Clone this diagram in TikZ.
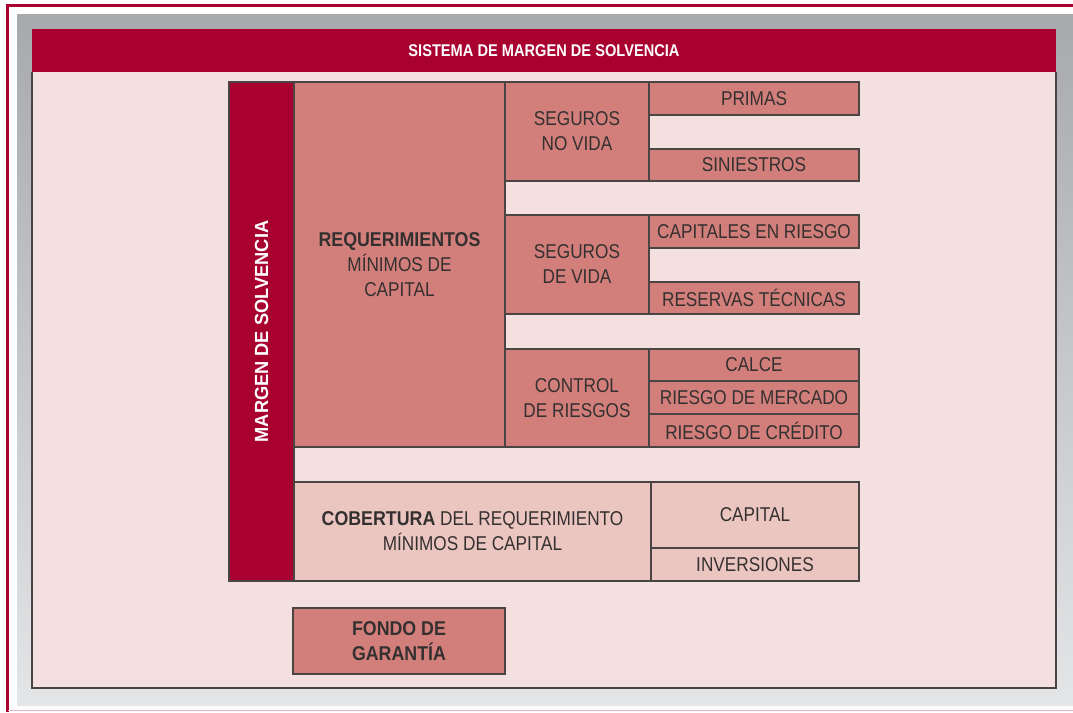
\documentclass[tikz,border=0pt]{standalone}
\usepackage{fontspec}
\setmainfont{Liberation Sans}[FakeStretch=0.86, BoldFeatures={FakeStretch=0.89}]
\newfontfamily\hdrfont{Liberation Sans}[FakeStretch=0.86]
\newfontfamily\vfont{Liberation Sans}[FakeStretch=0.96]
\definecolor{darkred}{HTML}{A8002F}
\definecolor{midpink}{HTML}{D27F7B}
\definecolor{lightbg}{HTML}{F3E0DF}
\definecolor{covpink}{HTML}{EBC6C1}
\definecolor{greytop}{HTML}{A8A9AD}
\definecolor{greybot}{HTML}{E4E5E7}
\definecolor{edge}{HTML}{4A4444}
\definecolor{txt}{HTML}{353030}
\tikzset{
  x=1pt, y=-1pt,
  bx/.style={draw=edge, line width=1.3pt, fill=midpink, text=txt, inner sep=0pt, align=center,
    font=\fontsize{20}{25}\selectfont},
  lbx/.style={bx, fill=covpink},
}
\newcommand{\boxat}[7]{%
  \node[#6, minimum width={(#4)-(#2)}, minimum height={(#5)-(#3)}] (#1) at ({((#2)+(#4))/2},{((#3)+(#5))/2}) {#7};}
\begin{document}
\begin{tikzpicture}
\useasboundingbox (0,0) rectangle (1073,712);
\fill[white] (0,0) rectangle (1073,712);
% outer frame
\draw[darkred, line width=2.6pt] (7.5,712) -- (7.5,5.5) -- (1073,5.5);
\draw[darkred!30, line width=1.5pt] (7.5,710.5) -- (1073,710.5);
% grey band
\shade[top color=greytop, bottom color=greybot] (17,14) rectangle (1073,705);
% inner pink area
\fill[lightbg] (32,29) rectangle (1056,688);
\draw[edge, line width=1.2pt] (32,72) -- (32,688) -- (1056,688) -- (1056,72);
% header
\node[fill=darkred, minimum width=1024, minimum height=43, inner sep=0pt,
  text=white, font=\hdrfont\bfseries\fontsize{17}{20}\selectfont] (hdr) at (544,50.5) {SISTEMA DE MARGEN DE SOLVENCIA};
% margin bar
\boxat{mar}{229}{82}{294}{581}{bx, fill=darkred}{}
\node[rotate=90, text=white, font=\vfont\bfseries\fontsize{19}{22}\selectfont] (martxt) at (mar.center) {MARGEN DE SOLVENCIA};
% requerimientos
\boxat{req}{294}{82}{505}{447}{bx}{\textbf{REQUERIMIENTOS}\\MÍNIMOS DE\\CAPITAL}
\boxat{snv}{505}{82}{649}{181}{bx}{SEGUROS\\NO VIDA}
\boxat{pri}{649}{82}{859}{115}{bx}{PRIMAS}
\boxat{sin}{649}{149}{859}{181}{bx}{SINIESTROS}
\boxat{sv}{505}{215}{649}{314}{bx}{SEGUROS\\DE VIDA}
\boxat{cap}{649}{215}{859}{248}{bx}{CAPITALES EN RIESGO}
\boxat{res}{649}{282}{859}{314}{bx}{RESERVAS TÉCNICAS}
\boxat{ctl}{505}{349}{649}{447}{bx}{CONTROL\\DE RIESGOS}
\boxat{cal}{649}{349}{859}{381}{bx}{CALCE}
\boxat{mer}{649}{381}{859}{414}{bx}{RIESGO DE MERCADO}
\boxat{cre}{649}{414}{859}{447}{bx}{RIESGO DE CRÉDITO}
% cobertura
\boxat{cob}{294}{482}{651}{581}{lbx}{\textbf{COBERTURA} DEL REQUERIMIENTO\\MÍNIMOS DE CAPITAL}
\boxat{cpt}{651}{482}{859}{548}{lbx}{CAPITAL}
\boxat{inv}{651}{548}{859}{581}{lbx}{INVERSIONES}
% fondo
\boxat{fon}{293}{608}{505}{674}{bx}{\textbf{FONDO DE}\\\textbf{GARANTÍA}}
\end{tikzpicture}
\end{document}
